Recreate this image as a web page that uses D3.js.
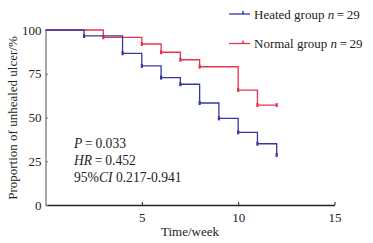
<!DOCTYPE html>
<html><head><meta charset="utf-8">
<script src="https://cdn.jsdelivr.net/npm/d3@7/dist/d3.min.js"></script>
<style>body{margin:0;background:#fff}svg text{font-family:"Liberation Serif","Times New Roman",serif;fill:#222}</style>
</head><body><div id="chart"></div>
<script>
const heatedTimes = [0, 2, 4, 5, 6, 7, 8, 9, 10, 11, 12];
const heatedValues = [100, 96.6, 86.7, 79.5, 72.8, 69.0, 58.3, 49.5, 41.5, 35.0, 28.6];
const normalTimes = [0, 3, 5, 6, 7, 8, 10, 11, 12];
const normalValues = [100, 95.8, 92.0, 87.3, 83.0, 79.0, 65.7, 57.1, 57.1];
const xTicks = [5, 10, 15];
const yTicks = [0, 25, 50, 75, 100];
const seriesNames = ["Heated group", "Normal group"];
const seriesN = [29, 29];
const colors = ["#3438a0", "#e8334f"];

const W = 373, H = 243;
const m = {left: 45.5, top: 30, right: 38.5, bottom: 38};
const svg = d3.select("#chart").append("svg").attr("width", W).attr("height", H);
const x = d3.scaleLinear().domain([0, 15]).range([m.left, W - m.right]);
const y = d3.scaleLinear().domain([0, 100]).range([H - m.bottom, m.top]);

// axes
const xAxis = svg.append("g").attr("transform", `translate(0,${y(0)})`)
  .call(d3.axisBottom(x).tickValues(xTicks).tickSize(-3).tickPadding(8).tickSizeOuter(0));
xAxis.select(".domain").attr("stroke", "#222").attr("stroke-width", 1.3);
xAxis.selectAll(".tick line").attr("stroke", "#222");
xAxis.selectAll("text").attr("font-size", 13).attr("fill", "#222");

const yAxis = svg.append("g").attr("transform", `translate(${x(0)},0)`)
  .call(d3.axisLeft(y).tickValues(yTicks).tickSize(-2.5).tickPadding(4).tickSizeOuter(0));
yAxis.select(".domain").attr("stroke", "#777").attr("stroke-width", 1.3);
yAxis.selectAll(".tick line").attr("stroke", "#777");
yAxis.selectAll("text").attr("font-size", 13).attr("fill", "#222");

const line = d3.line().x(d => x(d[0])).y(d => y(d[1])).curve(d3.curveStepAfter);
function draw(times, values, color) {
  const pts = times.map((t, i) => [t, values[i]]);
  svg.append("path").datum(pts).attr("d", line).attr("fill", "none")
    .attr("stroke", color).attr("stroke-width", 1.3);
  svg.selectAll(null).data(pts.slice(1)).enter().append("line")
    .attr("x1", d => x(d[0])).attr("x2", d => x(d[0]))
    .attr("y1", d => y(d[1]) - 2).attr("y2", d => y(d[1]) + 2)
    .attr("stroke", color).attr("stroke-width", 2.2);
}
draw(normalTimes, normalValues, colors[1]);
draw(heatedTimes, heatedValues, colors[0]);

// legend
seriesNames.forEach((nm, i) => {
  const ly = 14 + i * 29.5;
  svg.append("line").attr("x1", 229).attr("x2", 250).attr("y1", ly).attr("y2", ly)
    .attr("stroke", colors[i]).attr("stroke-width", 1.3);
  svg.append("line").attr("x1", 243).attr("x2", 243).attr("y1", ly - 3).attr("y2", ly)
    .attr("stroke", colors[i]).attr("stroke-width", 1.5);
  const t = svg.append("text").attr("x", 254).attr("y", ly + 4.5).attr("font-size", 13);
  t.append("tspan").text(nm + " ");
  t.append("tspan").attr("font-style", "italic").text("n");
  t.append("tspan").text("\u2009=\u2009" + seriesN[i]);
});

// annotations
const ann = svg.append("g").attr("font-size", 13.6);
let t1 = ann.append("text").attr("x", 74).attr("y", 148);
t1.append("tspan").attr("font-style", "italic").text("P");
t1.append("tspan").text("\u2009=\u20090.033");
let t2 = ann.append("text").attr("x", 74).attr("y", 165);
t2.append("tspan").attr("font-style", "italic").text("HR");
t2.append("tspan").text("\u2009=\u20090.452");
let t3 = ann.append("text").attr("x", 74).attr("y", 181.5);
t3.append("tspan").text("95%");
t3.append("tspan").attr("font-style", "italic").text("CI");
t3.append("tspan").text(" 0.217-0.941");

// axis titles
svg.append("text").attr("x", 190).attr("y", 236).attr("text-anchor", "middle")
  .attr("font-size", 13).text("Time/week");
svg.append("text").attr("transform", `translate(17,${118}) rotate(-90)`)
  .attr("text-anchor", "middle").attr("font-size", 13).text("Proportion of unhealed ulcer/%");
</script></body></html>
